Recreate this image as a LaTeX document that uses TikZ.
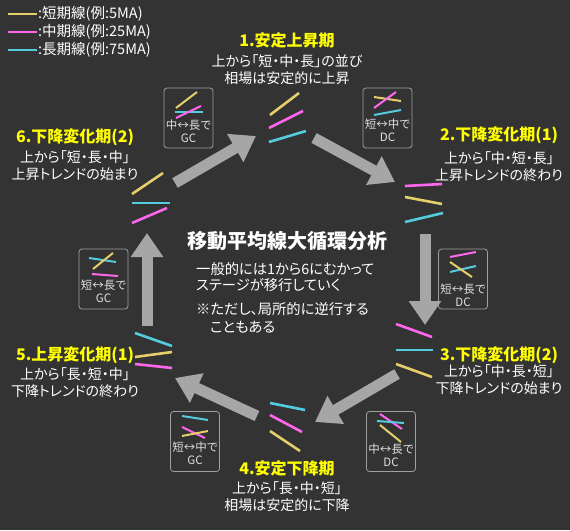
\documentclass[tikz,border=0pt]{standalone}
\usepackage{fontspec}
\setmainfont{Noto Sans CJK JP}[RawFeature={+palt}]
\usepackage{tikz}
\usetikzlibrary{arrows.meta}
\definecolor{bgc}{HTML}{333333}
\definecolor{ttlc}{HTML}{FFFF00}
\definecolor{c5}{HTML}{E6CF6A}
\definecolor{c25}{HTML}{FF66EE}
\definecolor{c75}{HTML}{55CCDD}
\definecolor{arrc}{HTML}{A6A6A6}
\definecolor{boxc}{HTML}{A0A0A0}
\definecolor{boxt}{HTML}{E0E0E0}

\begin{document}
\begin{tikzpicture}[x=1pt,y=-1pt]
\tikzstyle{every node}+=[inner sep=0pt]
\tikzstyle{ma5}=[c5,line width=2.6pt]
\tikzstyle{ma25}=[c25,line width=2.6pt]
\tikzstyle{ma75}=[c75,line width=2.6pt]
\tikzstyle{sm}=[line width=2pt]
\tikzstyle{big}=[arrc,line width=11pt,-{Triangle[length=24pt,width=31pt]}]
\tikzstyle{ttl}=[ttlc,font=\bfseries\fontsize{16}{18}\selectfont]
\tikzstyle{body}=[white,align=center,font=\fontsize{14}{17}\selectfont]
\tikzstyle{legend}=[white,anchor=west,font=\fontsize{14.5}{16}\selectfont]
\tikzstyle{cbox}=[draw=boxc,line width=0.8pt,rounded corners=3pt,minimum width=49pt,minimum height=60pt]
\tikzstyle{btxt}=[boxt,align=center,font=\fontsize{11.5}{13}\selectfont]
\fill[bgc] (0,0) rectangle (570,530);
\useasboundingbox (0,0) rectangle (570,530);
% legend
\draw[ma5] (8,14) -- (37,14);
\node[legend] (l5) at (38,14) {:短期線(例:5MA)};
\draw[ma25] (8,32) -- (37,32);
\node[legend] (l25) at (38,32) {:中期線(例:25MA)};
\draw[ma75] (8,50) -- (37,50);
\node[legend] (l75) at (38,50) {:長期線(例:75MA)};
% stage texts
\node[ttl] (s1t) at (287,40) {1.安定上昇期};
\node[body] (s1b) at (287,70) {上から「短・中・長」の並び\\相場は安定的に上昇};
\node[ttl] (s2t) at (499,135) {2.下降変化期(1)};
\node[body] (s2b) at (499,167) {上から「中・短・長」\\上昇トレンドの終わり};
\node[ttl] (s3t) at (499,355) {3.下降変化期(2)};
\node[body] (s3b) at (499,380) {上から「中・長・短」\\下降トレンドの始まり};
\node[ttl] (s4t) at (287,468) {4.安定下降期};
\node[body] (s4b) at (287,497) {上から「長・中・短」\\相場は安定的に下降};
\node[ttl] (s5t) at (75,355) {5.上昇変化期(1)};
\node[body] (s5b) at (75,383) {上から「長・短・中」\\下降トレンドの終わり};
\node[ttl] (s6t) at (75,137) {6.下降変化期(2)};
\node[body] (s6b) at (75,166) {上から「短・長・中」\\上昇トレンドの始まり};
% center
\node[white,font=\bfseries\fontsize{20}{23}\selectfont] (ctr) at (287,241) {移動平均線大循環分析};
\node[white,anchor=west,align=left,font=\fontsize{14.3}{16}\selectfont] (cb1) at (196,277) {一般的には1から6にむかって\\ステージが移行していく};
\node[white,anchor=west,font=\fontsize{14.3}{16}\selectfont] (cb2) at (196,309) {※ただし、局所的に逆行する};
\node[white,anchor=west,font=\fontsize{14.3}{16}\selectfont] (cb3) at (210,327) {こともある};
% stage lines
\draw[ma5] (270,115) -- (299,93);
\draw[ma25] (269,128) -- (303,111);
\draw[ma75] (269,142) -- (306,131);
\draw[ma25] (405,186) -- (442,184);
\draw[ma5] (405,197) -- (442,204);
\draw[ma75] (405,222) -- (443,213);
\draw[ma25] (396,324) -- (432,337);
\draw[ma75] (396,350) -- (433,350);
\draw[ma5] (396,364) -- (432,377);
\draw[ma75] (270,403) -- (305,410);
\draw[ma25] (270,415) -- (302,432);
\draw[ma5] (270,431) -- (300,451);
\draw[ma75] (135,333) -- (172,346);
\draw[ma5] (135,357) -- (172,352);
\draw[ma25] (135,364) -- (172,368);
\draw[ma5] (132,194) -- (163,173);
\draw[ma75] (132,203) -- (170,203);
\draw[ma25] (132,223) -- (167,208);
% cross boxes
\node[cbox] (b61) at (188.5,118) {};
\draw[ma5,sm] (176,108) -- (197,92);
\draw[ma75,sm] (175,112) -- (203,112);
\draw[ma25,sm] (176,118) -- (201,106);
\node[btxt] (b61t) at (188.5,131.5) {中↔長で\\GC};
\node[cbox] (b12) at (387.5,118) {};
\draw[ma5,sm] (374,97) -- (401,101);
\draw[ma25,sm] (374,108) -- (396,92);
\draw[ma75,sm] (374,115) -- (401,110);
\node[btxt] (b12t) at (387.5,130.5) {短↔中で\\DC};
\node[cbox] (b23) at (463,279) {};
\draw[ma25,sm] (450,257) -- (476,252);
\draw[ma75,sm] (450,272) -- (476,266);
\draw[ma5,sm] (450,262) -- (472,277);
\node[btxt] (b23t) at (463,295) {短↔長で\\DC};
\node[cbox] (b34) at (391,441.5) {};
\draw[ma25,sm] (380,414) -- (402,429);
\draw[ma75,sm] (377,421) -- (404,423);
\draw[ma5,sm] (380,425) -- (401,442);
\node[btxt] (b34t) at (391,455) {中↔長で\\DC};
\node[cbox] (b45) at (195,441.5) {};
\draw[ma75,sm] (182,416) -- (208,420);
\draw[ma25,sm] (182,427) -- (205,438);
\draw[ma5,sm] (182,436) -- (208,431);
\node[btxt] (b45t) at (195,453) {短↔中で\\GC};
\node[cbox] (b56) at (103.5,279) {};
\draw[ma75,sm] (89,258) -- (116,262);
\draw[ma5,sm] (93,269) -- (113,253);
\draw[ma25,sm] (92,274) -- (118,276);
\node[btxt] (b56t) at (103.5,291.5) {短↔長で\\GC};
% cycle arrows
\coordinate (a12s) at (314,138);
\coordinate (a12e) at (395,182);
\coordinate (a23s) at (425,234);
\coordinate (a23e) at (425,325);
\coordinate (a34s) at (397,374);
\coordinate (a34e) at (315,422);
\coordinate (a45s) at (257,416);
\coordinate (a45e) at (175,378);
\coordinate (a56s) at (147,326);
\coordinate (a56e) at (147,233);
\coordinate (a61s) at (175,183);
\coordinate (a61e) at (256,136);
\draw[big] (a12s) -- (a12e);
\draw[big] (a23s) -- (a23e);
\draw[big] (a34s) -- (a34e);
\draw[big] (a45s) -- (a45e);
\draw[big] (a56s) -- (a56e);
\draw[big] (a61s) -- (a61e);
\end{tikzpicture}
\end{document}
